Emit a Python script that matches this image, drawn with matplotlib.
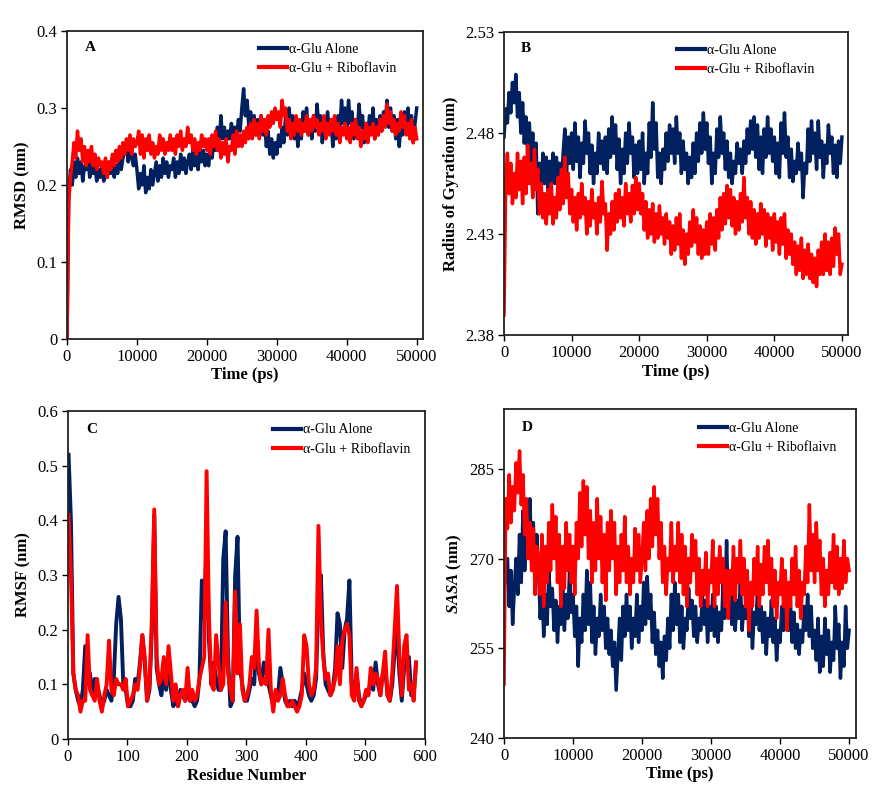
import numpy as np
import matplotlib.pyplot as plt

plt.rcParams['font.family'] = ['Liberation Serif', 'DejaVu Serif']
plt.rcParams['mathtext.fontset'] = 'custom'
plt.rcParams['mathtext.it'] = 'Liberation Serif:italic:bold'
plt.rcParams['mathtext.rm'] = 'Liberation Serif:bold'

NAVY = '#002060'
RED = '#ff0000'

labels_A = ['α-Glu Alone', 'α-Glu + Riboflavin']
labels_D = ['α-Glu Alone', 'α-Glu + Riboflaivn']

# RMSD (nm), one value every 250 ps from 0 to 50000 ps
rmsd_alone = [
    0, 0.19, 0.22, 0.20, 0.23, 0.21, 0.235, 0.215, 0.23, 0.205, 0.225, 0.22, 0.235, 0.21, 0.23, 0.215, 0.225, 0.205, 0.22, 0.21,
    0.225, 0.205, 0.22, 0.21, 0.23, 0.215, 0.235, 0.21, 0.225, 0.215, 0.24, 0.22, 0.235, 0.245, 0.255, 0.23, 0.26, 0.235, 0.225, 0.24,
    0.22, 0.195, 0.215, 0.20, 0.225, 0.19, 0.21, 0.195, 0.22, 0.20, 0.215, 0.23, 0.205, 0.225, 0.21, 0.235, 0.215, 0.23, 0.21, 0.225,
    0.22, 0.235, 0.21, 0.23, 0.215, 0.24, 0.22, 0.235, 0.215, 0.23, 0.24, 0.22, 0.245, 0.225, 0.24, 0.22, 0.25, 0.23, 0.245, 0.225,
    0.24, 0.225, 0.25, 0.235, 0.26, 0.245, 0.275, 0.25, 0.29, 0.26, 0.275, 0.255, 0.27, 0.26, 0.28, 0.265, 0.275, 0.26, 0.285, 0.27,
    0.30, 0.325, 0.29, 0.31, 0.275, 0.295, 0.27, 0.29, 0.265, 0.285, 0.27, 0.29, 0.265, 0.28, 0.25, 0.27, 0.24, 0.26, 0.235, 0.255,
    0.24, 0.265, 0.25, 0.275, 0.255, 0.29, 0.265, 0.30, 0.27, 0.29, 0.26, 0.285, 0.25, 0.28, 0.26, 0.295, 0.27, 0.30, 0.265, 0.285,
    0.26, 0.29, 0.27, 0.305, 0.275, 0.29, 0.255, 0.28, 0.265, 0.295, 0.27, 0.285, 0.25, 0.275, 0.26, 0.29, 0.27, 0.31, 0.28, 0.30,
    0.27, 0.31, 0.28, 0.295, 0.26, 0.285, 0.265, 0.305, 0.275, 0.29, 0.255, 0.28, 0.265, 0.29, 0.27, 0.30, 0.26, 0.285, 0.265, 0.29,
    0.27, 0.295, 0.28, 0.31, 0.275, 0.30, 0.27, 0.29, 0.26, 0.285, 0.25, 0.28, 0.265, 0.295, 0.27, 0.30, 0.265, 0.29, 0.255, 0.28,
    0.30]
rmsd_ribo = [
    0, 0.18, 0.21, 0.23, 0.255, 0.235, 0.27, 0.245, 0.26, 0.23, 0.25, 0.225, 0.245, 0.23, 0.25, 0.225, 0.24, 0.22, 0.235, 0.225,
    0.23, 0.215, 0.235, 0.21, 0.23, 0.22, 0.24, 0.225, 0.245, 0.23, 0.25, 0.235, 0.255, 0.24, 0.26, 0.245, 0.265, 0.24, 0.26, 0.25,
    0.255, 0.27, 0.24, 0.265, 0.235, 0.26, 0.245, 0.265, 0.24, 0.255, 0.235, 0.25, 0.24, 0.265, 0.245, 0.26, 0.24, 0.255, 0.245, 0.265,
    0.245, 0.26, 0.24, 0.265, 0.25, 0.27, 0.245, 0.26, 0.25, 0.275, 0.255, 0.265, 0.245, 0.26, 0.24, 0.255, 0.245, 0.265, 0.25, 0.26,
    0.245, 0.26, 0.24, 0.265, 0.25, 0.27, 0.245, 0.26, 0.235, 0.255, 0.24, 0.26, 0.23, 0.25, 0.245, 0.265, 0.24, 0.27, 0.25, 0.265,
    0.25, 0.27, 0.255, 0.275, 0.26, 0.28, 0.26, 0.285, 0.265, 0.28, 0.26, 0.29, 0.27, 0.285, 0.265, 0.29, 0.275, 0.295, 0.28, 0.30,
    0.285, 0.295, 0.275, 0.31, 0.29, 0.30, 0.27, 0.285, 0.26, 0.28, 0.265, 0.29, 0.27, 0.285, 0.265, 0.28, 0.27, 0.29, 0.265, 0.285,
    0.27, 0.29, 0.275, 0.285, 0.265, 0.28, 0.27, 0.29, 0.26, 0.28, 0.265, 0.285, 0.27, 0.29, 0.265, 0.28, 0.255, 0.275, 0.265, 0.28,
    0.26, 0.275, 0.255, 0.28, 0.265, 0.285, 0.26, 0.275, 0.25, 0.27, 0.26, 0.28, 0.255, 0.275, 0.265, 0.28, 0.26, 0.275, 0.265, 0.285,
    0.27, 0.29, 0.275, 0.305, 0.28, 0.295, 0.27, 0.285, 0.265, 0.28, 0.27, 0.295, 0.275, 0.29, 0.265, 0.28, 0.26, 0.285, 0.255, 0.275,
    0.26]

# Radius of gyration (nm)
rg_alone = [
    2.478, 2.492, 2.485, 2.50, 2.49, 2.505, 2.495, 2.509, 2.488, 2.50, 2.48, 2.495, 2.475, 2.488, 2.47, 2.485, 2.465, 2.48, 2.46, 2.475,
    2.44, 2.465, 2.452, 2.47, 2.455, 2.468, 2.452, 2.466, 2.456, 2.47, 2.455, 2.468, 2.458, 2.465, 2.452, 2.47, 2.482, 2.46, 2.478, 2.465,
    2.48, 2.462, 2.485, 2.466, 2.478, 2.458, 2.475, 2.465, 2.486, 2.47, 2.48, 2.46, 2.474, 2.455, 2.47, 2.46, 2.48, 2.465, 2.476, 2.462,
    2.478, 2.46, 2.482, 2.468, 2.488, 2.47, 2.484, 2.462, 2.477, 2.455, 2.472, 2.46, 2.48, 2.465, 2.485, 2.47, 2.478, 2.458, 2.474, 2.46,
    2.476, 2.462, 2.48, 2.455, 2.47, 2.46, 2.485, 2.468, 2.495, 2.472, 2.485, 2.458, 2.47, 2.455, 2.472, 2.462, 2.48, 2.466, 2.484, 2.47,
    2.482, 2.465, 2.488, 2.47, 2.48, 2.46, 2.476, 2.462, 2.47, 2.455, 2.468, 2.458, 2.475, 2.46, 2.48, 2.466, 2.485, 2.47, 2.49, 2.472,
    2.485, 2.465, 2.478, 2.455, 2.47, 2.46, 2.482, 2.468, 2.488, 2.47, 2.48, 2.462, 2.476, 2.458, 2.47, 2.455, 2.466, 2.46, 2.475, 2.465,
    2.472, 2.46, 2.476, 2.465, 2.482, 2.47, 2.486, 2.472, 2.488, 2.468, 2.484, 2.462, 2.478, 2.46, 2.482, 2.468, 2.488, 2.47, 2.482, 2.466,
    2.478, 2.46, 2.475, 2.458, 2.485, 2.47, 2.49, 2.468, 2.478, 2.458, 2.472, 2.456, 2.466, 2.46, 2.475, 2.462, 2.47, 2.448, 2.465, 2.46,
    2.482, 2.466, 2.486, 2.47, 2.48, 2.462, 2.486, 2.468, 2.476, 2.458, 2.474, 2.465, 2.484, 2.47, 2.478, 2.46, 2.474, 2.458, 2.476, 2.465,
    2.478]
rg_ribo = [
    2.39, 2.455, 2.47, 2.45, 2.465, 2.445, 2.46, 2.448, 2.47, 2.452, 2.466, 2.445, 2.468, 2.45, 2.474, 2.455, 2.465, 2.448, 2.472, 2.452,
    2.462, 2.44, 2.455, 2.438, 2.45, 2.435, 2.452, 2.44, 2.455, 2.435, 2.448, 2.438, 2.458, 2.442, 2.462, 2.445, 2.468, 2.448, 2.46, 2.44,
    2.452, 2.436, 2.448, 2.432, 2.45, 2.438, 2.455, 2.44, 2.448, 2.43, 2.446, 2.434, 2.452, 2.438, 2.445, 2.43, 2.448, 2.436, 2.456, 2.44,
    2.445, 2.422, 2.44, 2.43, 2.446, 2.432, 2.45, 2.436, 2.452, 2.438, 2.448, 2.434, 2.455, 2.44, 2.45, 2.436, 2.454, 2.44, 2.458, 2.442,
    2.455, 2.44, 2.45, 2.432, 2.446, 2.428, 2.442, 2.43, 2.445, 2.426, 2.44, 2.428, 2.444, 2.43, 2.438, 2.425, 2.44, 2.428, 2.436, 2.42,
    2.434, 2.422, 2.438, 2.425, 2.44, 2.418, 2.432, 2.415, 2.43, 2.42, 2.436, 2.424, 2.442, 2.426, 2.438, 2.42, 2.434, 2.418, 2.432, 2.42,
    2.436, 2.42, 2.44, 2.425, 2.438, 2.422, 2.442, 2.428, 2.448, 2.432, 2.45, 2.435, 2.454, 2.438, 2.452, 2.434, 2.448, 2.43, 2.446, 2.432,
    2.45, 2.436, 2.458, 2.438, 2.448, 2.43, 2.446, 2.428, 2.442, 2.425, 2.44, 2.428, 2.445, 2.43, 2.442, 2.424, 2.44, 2.428, 2.438, 2.422,
    2.44, 2.426, 2.436, 2.42, 2.438, 2.425, 2.44, 2.418, 2.432, 2.42, 2.43, 2.415, 2.426, 2.41, 2.424, 2.412, 2.428, 2.408, 2.422, 2.41,
    2.425, 2.408, 2.42, 2.406, 2.418, 2.404, 2.422, 2.41, 2.426, 2.41, 2.43, 2.412, 2.426, 2.41, 2.428, 2.414, 2.433, 2.42, 2.43, 2.41,
    2.415]

# RMSF (nm), residues 1..585 every 4th residue
rmsf_alone = [
    0.52, 0.40, 0.12, 0.09, 0.07, 0.06, 0.09, 0.17, 0.10, 0.12,
    0.08, 0.11, 0.10, 0.08, 0.06, 0.07, 0.09, 0.08, 0.07, 0.11,
    0.21, 0.26, 0.22, 0.10, 0.09, 0.06, 0.06, 0.07, 0.11, 0.10,
    0.14, 0.19, 0.14, 0.07, 0.09, 0.20, 0.41, 0.13, 0.10, 0.08,
    0.12, 0.09, 0.14, 0.09, 0.06, 0.07, 0.06, 0.09, 0.08, 0.07,
    0.09, 0.07, 0.07, 0.06, 0.07, 0.11, 0.29, 0.22, 0.36, 0.18,
    0.10, 0.14, 0.11, 0.09, 0.09, 0.33, 0.38, 0.15, 0.06, 0.07,
    0.30, 0.37, 0.13, 0.10, 0.07, 0.07, 0.09, 0.11, 0.10, 0.20,
    0.12, 0.10, 0.14, 0.12, 0.10, 0.08, 0.06, 0.08, 0.08, 0.13,
    0.10, 0.07, 0.06, 0.07, 0.06, 0.07, 0.06, 0.07, 0.09, 0.12,
    0.10, 0.08, 0.07, 0.08, 0.11, 0.26, 0.30, 0.16, 0.10, 0.09,
    0.08, 0.09, 0.13, 0.23, 0.21, 0.13, 0.20, 0.22, 0.29, 0.10,
    0.08, 0.12, 0.08, 0.06, 0.07, 0.08, 0.09, 0.10, 0.09, 0.14,
    0.10, 0.08, 0.12, 0.13, 0.08, 0.07, 0.10, 0.16, 0.20, 0.12,
    0.07, 0.13, 0.15, 0.15, 0.08, 0.08, 0.14]
rmsf_ribo = [
    0.41, 0.30, 0.12, 0.09, 0.08, 0.05, 0.07, 0.07, 0.19, 0.09,
    0.08, 0.07, 0.11, 0.07, 0.05, 0.08, 0.10, 0.18, 0.09, 0.08,
    0.11, 0.10, 0.10, 0.09, 0.11, 0.06, 0.07, 0.08, 0.10, 0.09,
    0.13, 0.19, 0.15, 0.07, 0.10, 0.22, 0.42, 0.15, 0.10, 0.11,
    0.15, 0.10, 0.17, 0.12, 0.07, 0.10, 0.06, 0.08, 0.09, 0.07,
    0.13, 0.07, 0.09, 0.07, 0.08, 0.11, 0.13, 0.15, 0.49, 0.22,
    0.10, 0.09, 0.19, 0.14, 0.09, 0.10, 0.25, 0.12, 0.09, 0.07,
    0.27, 0.12, 0.21, 0.09, 0.07, 0.08, 0.10, 0.15, 0.13, 0.235,
    0.13, 0.10, 0.11, 0.10, 0.20, 0.09, 0.05, 0.09, 0.07, 0.08,
    0.11, 0.08, 0.06, 0.06, 0.07, 0.06, 0.05, 0.06, 0.08, 0.19,
    0.17, 0.10, 0.08, 0.09, 0.13, 0.39, 0.22, 0.15, 0.11, 0.12,
    0.08, 0.09, 0.11, 0.17, 0.10, 0.18, 0.20, 0.21, 0.19, 0.08,
    0.07, 0.13, 0.07, 0.06, 0.07, 0.09, 0.08, 0.13, 0.10, 0.12,
    0.11, 0.08, 0.12, 0.16, 0.08, 0.07, 0.12, 0.20, 0.28, 0.15,
    0.08, 0.17, 0.19, 0.09, 0.10, 0.07, 0.14]

# SASA
sasa_alone = [
    272, 266, 270, 262, 268, 259, 265, 270, 264, 274, 266, 278, 268, 276, 272, 280, 270, 276, 266, 274,
    268, 260, 266, 257, 264, 259, 268, 262, 265, 258, 263, 256, 262, 259, 266, 258, 264, 260, 268, 261,
    264, 257, 262, 252, 260, 256, 264, 258, 268, 259, 266, 256, 262, 254, 260, 257, 264, 258, 262, 255,
    260, 254, 258, 252, 256, 248, 254, 260, 253, 262, 257, 264, 258, 262, 255, 260, 257, 264, 256, 262,
    258, 266, 259, 267, 260, 264, 256, 261, 254, 258, 252, 256, 250, 257, 253, 260, 255, 264, 258, 266,
    259, 264, 256, 262, 255, 260, 258, 265, 260, 263, 257, 262, 256, 260, 258, 264, 259, 263, 256, 262,
    258, 264, 257, 262, 256, 261, 258, 266, 260, 273, 262, 267, 259, 264, 258, 263, 260, 266, 258, 262,
    260, 264, 257, 262, 255, 261, 259, 265, 258, 262, 256, 261, 254, 260, 257, 263, 256, 260, 253, 258,
    256, 262, 258, 264, 260, 258, 263, 256, 261, 255, 259, 254, 258, 256, 262, 258, 264, 257, 262, 255,
    258, 253, 260, 251, 257, 252, 260, 254, 258, 251, 256, 253, 262, 255, 259, 250, 256, 252, 262, 255,
    258]
sasa_ribo = [
    249, 280, 275, 284, 276, 282, 278, 286, 281, 288, 279, 284, 274, 280, 270, 276, 268, 275, 264, 272,
    270, 264, 274, 262, 272, 266, 276, 268, 279, 270, 277, 266, 274, 262, 272, 265, 276, 268, 274, 266,
    272, 264, 276, 270, 281, 272, 283, 274, 282, 270, 278, 266, 276, 268, 280, 270, 277, 266, 274, 263,
    276, 268, 278, 270, 276, 264, 272, 266, 274, 268, 277, 266, 272, 264, 270, 266, 275, 268, 274, 266,
    270, 276, 268, 278, 270, 280, 272, 282, 274, 280, 270, 276, 266, 272, 264, 270, 268, 276, 266, 272,
    268, 276, 266, 274, 264, 272, 262, 270, 266, 274, 268, 273, 264, 270, 262, 268, 264, 271, 262, 268,
    266, 273, 262, 270, 264, 272, 266, 270, 262, 268, 260, 268, 264, 272, 263, 270, 266, 273, 264, 270,
    262, 268, 258, 266, 262, 270, 264, 272, 262, 269, 264, 272, 266, 273, 264, 270, 262, 268, 260, 266,
    264, 270, 262, 268, 258, 266, 262, 270, 264, 272, 262, 268, 260, 266, 264, 272, 266, 279, 268, 274,
    266, 276, 268, 273, 264, 270, 262, 268, 264, 271, 266, 274, 265, 272, 264, 270, 265, 273, 266, 270,
    268]

time_ticks = [0, 10000, 20000, 30000, 40000, 50000]
res_ticks = [0, 100, 200, 300, 400, 500, 600]
rmsd_ticks = ['0', '0.1', '0.2', '0.3', '0.4']
rg_ticks = ['2.38', '2.43', '2.48', '2.53']
rmsf_ticks = ['0', '0.1', '0.2', '0.3', '0.4', '0.5', '0.6']
sasa_ticks = ['240', '255', '270', '285']


def style_axes(ax, letter, xticks, yticks, xlim, ylim):
    ax.set_xlim(xlim)
    ax.set_ylim(ylim)
    ax.set_xticks(xticks)
    ax.set_xticklabels([str(t) for t in xticks])
    ax.set_yticks([float(t) for t in yticks])
    ax.set_yticklabels(yticks)
    ax.tick_params(direction='out', length=4, width=1, labelsize=12, pad=3)
    for s in ax.spines.values():
        s.set_linewidth(1.3)
        s.set_color('#222222')
    ax.text(0.05, 0.945, letter, transform=ax.transAxes, fontsize=11,
            fontweight='bold', va='center', ha='left')


def add_legend(ax, x, labels):
    leg = ax.legend(labels, loc='upper left', bbox_to_anchor=(x, 0.962), frameon=False,
                    fontsize=10, handlelength=2.0, handletextpad=0.15,
                    labelspacing=0.45, borderaxespad=0, borderpad=0)
    for h in leg.get_lines():
        h.set_linewidth(3)


fig = plt.figure(figsize=(8.85, 7.95), dpi=100)

# A - RMSD
ax = fig.add_axes([0.0757, 0.5736, 0.4023, 0.3874])
t = np.linspace(0, 50000, len(rmsd_alone))
ax.plot(t, rmsd_alone, color=NAVY, lw=2.5)
t = np.linspace(0, 50000, len(rmsd_ribo))
ax.plot(t, rmsd_ribo, color=RED, lw=2.5)
style_axes(ax, 'A', time_ticks, rmsd_ticks, (0, 50900), (0, 0.4))
ax.set_xlabel('Time (ps)', fontsize=12, fontweight='bold', labelpad=2)
ax.set_ylabel('RMSD (nm)', fontsize=12, fontweight='bold', labelpad=4)
add_legend(ax, 0.54, labels_A)

# B - Rg
ax = fig.add_axes([0.5695, 0.5786, 0.3887, 0.3811])
t = np.linspace(0, 50000, len(rg_alone))
ax.plot(t, rg_alone, color=NAVY, lw=2.5)
t = np.linspace(0, 50000, len(rg_ribo))
ax.plot(t, rg_ribo, color=RED, lw=2.5)
style_axes(ax, 'B', time_ticks, rg_ticks, (0, 50900), (2.38, 2.53))
ax.set_xlabel('Time (ps)', fontsize=12, fontweight='bold', labelpad=2)
ax.set_ylabel('Radius of Gyration (nm)', fontsize=12, fontweight='bold', labelpad=4)
add_legend(ax, 0.503, labels_A)

# C - RMSF
ax = fig.add_axes([0.0768, 0.0704, 0.4034, 0.4126])
r = np.linspace(1, 585, len(rmsf_alone))
ax.plot(r, rmsf_alone, color=NAVY, lw=2.8)
r = np.linspace(1, 585, len(rmsf_ribo))
ax.plot(r, rmsf_ribo, color=RED, lw=2.8)
style_axes(ax, 'C', res_ticks, rmsf_ticks, (0, 600), (0, 0.6))
ax.set_xlabel('Residue Number', fontsize=12, fontweight='bold', labelpad=2)
ax.set_ylabel('RMSF (nm)', fontsize=12, fontweight='bold', labelpad=4)
add_legend(ax, 0.574, labels_A)

# D - SASA
ax = fig.add_axes([0.5695, 0.0717, 0.3977, 0.4138])
t = np.linspace(0, 50000, len(sasa_alone))
ax.plot(t, sasa_alone, color=NAVY, lw=2.5)
t = np.linspace(0, 50000, len(sasa_ribo))
ax.plot(t, sasa_ribo, color=RED, lw=2.5)
style_axes(ax, 'D', time_ticks, sasa_ticks, (0, 51000), (240, 295))
ax.set_xlabel('Time (ps)', fontsize=12, fontweight='bold', labelpad=2)
ax.set_ylabel(r'$\mathit{SASA}$ (nm)', fontsize=12, fontweight='bold', labelpad=4)
add_legend(ax, 0.554, labels_D)

fig.savefig('out.png', dpi=100)
